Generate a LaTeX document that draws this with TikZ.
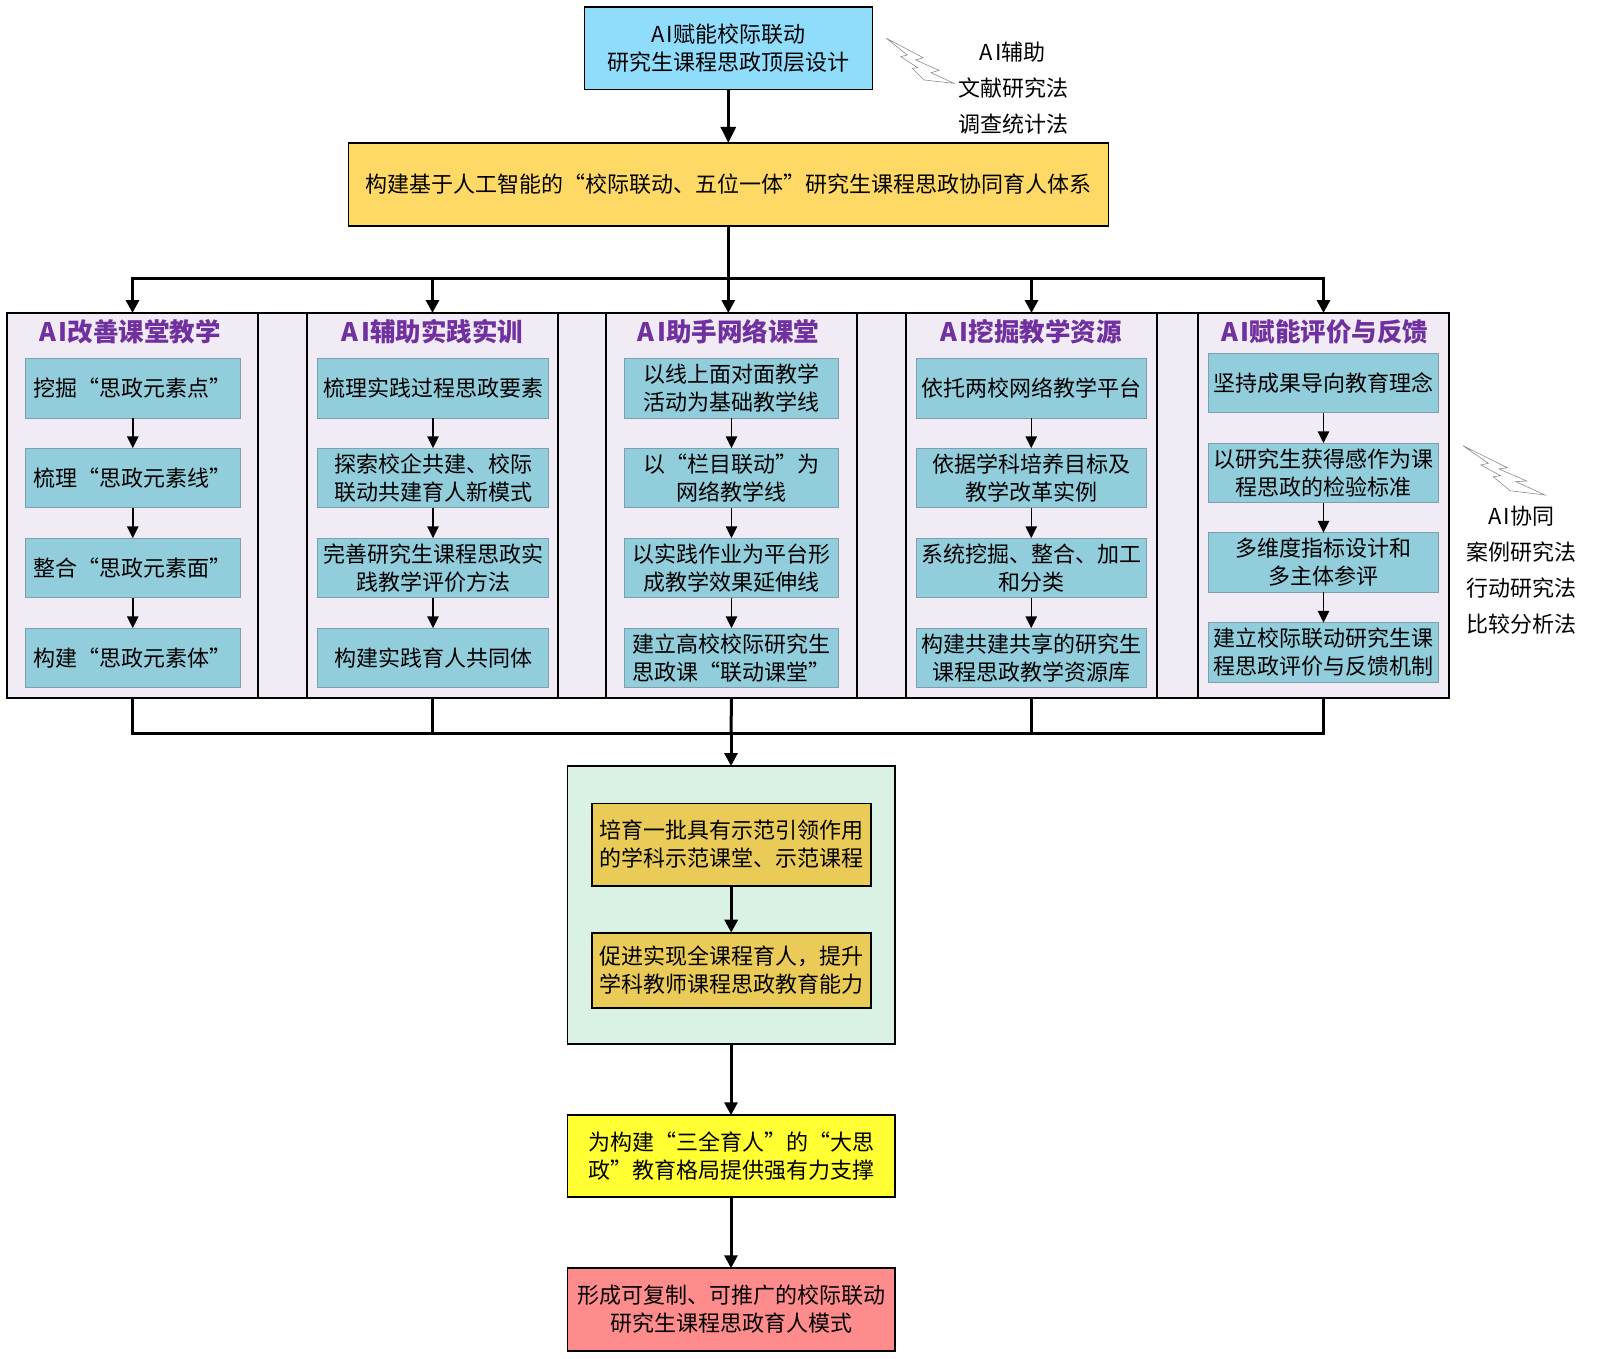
\documentclass[tikz,border=0pt]{standalone}
\usepackage{fontspec}
\setmainfont{Noto Sans CJK SC}
\usetikzlibrary{arrows.meta}
\newcommand{\AIx}{A\kern0.1em I}
\definecolor{lav}{HTML}{F0EBF5}
\definecolor{teal1}{HTML}{92CDDC}
\definecolor{tealb}{HTML}{7F9FAF}
\definecolor{topblue}{HTML}{8FDDFB}
\definecolor{orange1}{HTML}{FFD966}
\definecolor{gold1}{HTML}{EBCB58}
\definecolor{green1}{HTML}{DAF2E4}
\definecolor{yellow1}{HTML}{FFFF33}
\definecolor{pink1}{HTML}{FF8C8C}
\definecolor{purple1}{HTML}{7030A0}
\tikzset{
  x=1pt,y=-1pt,
  base/.style={align=center,inner sep=0pt,outer sep=0pt,font=\fontsize{22}{28}\selectfont},
  mainbox/.style={base,draw=black,line width=1.6pt},
  panel/.style={draw=black,line width=2.4pt,fill=lav,minimum height=385pt,inner sep=0pt,outer sep=0pt},
  inbox/.style={base,draw=tealb,line width=0.8pt,fill=teal1,minimum height=59.5pt},
  title/.style={inner sep=0pt,text=purple1,font=\fontsize{25.5}{30}\selectfont\bfseries},
  side/.style={inner sep=0pt,align=center,font=\fontsize{22}{36}\selectfont},
  bolt/.style={draw=black!45,line width=0.6pt,line join=miter},
  thinarrow/.style={draw=black,line width=1.5pt,-{Triangle[length=12pt,width=11.5pt]}},
  bigarrow/.style={draw=black,line width=3pt,-{Triangle[length=13pt,width=13pt]}},
  headarrow/.style={draw=black,line width=3pt,-{Triangle[length=16pt,width=15pt]}},
  busline/.style={draw=black,line width=3pt},
  w1/.style={minimum width=214.5pt},
  w2/.style={minimum width=231pt},
  w3/.style={minimum width=214.5pt},
  w4/.style={minimum width=230.5pt},
  w5/.style={minimum width=230pt},
}
\begin{document}
\begin{tikzpicture}
\useasboundingbox (0,0) rectangle (1599,1359);
% band behind panels
\node[draw=black,line width=1.8pt,fill=lav,minimum width=1442pt,minimum height=385pt,inner sep=0pt,outer sep=0pt] (band) at (728,505.5) {};
% top
\node[mainbox,fill=topblue,minimum width=288pt,minimum height=82.5pt] (top) at (728.3,48.25) {\AIx 赋能校际联动\\研究生课程思政顶层设计};
\node[mainbox,fill=orange1,minimum width=760pt,minimum height=83pt] (sys) at (728.3,184.5) {构建基于人工智能的“校际联动、五位一体”研究生课程思政协同育人体系};
\draw[headarrow] (top) -- (sys);
% side notes
\node[side] (note1) at (1013,88) {\AIx 辅助\\文献研究法\\调查统计法};
\node[side] (note2) at (1521,570.5) {\AIx 协同\\案例研究法\\行动研究法\\比较分析法};
\draw[bolt] (886.3,38.3)--(923.3,57.7)--(915.7,60)--(939,70.3)--(931,72.7)--(954,83.3)--(924,80)--(912.3,68.3)--(917.7,67.7)--(900.7,56.7)--(907.3,55)--cycle;
\draw[bolt] (1463,445.7)--(1507.3,467.7)--(1499,469)--(1526.7,481)--(1516,481.7)--(1545,495)--(1510,490.7)--(1493.3,476.7)--(1500.7,475.7)--(1480.7,465)--(1488.3,463.3)--cycle;
% panels
\node[panel,minimum width=251pt] (p1) at (132.5,505.5) {};
\node[panel,minimum width=251pt] (p2) at (432.5,505.5) {};
\node[panel,minimum width=251pt] (p3) at (731.5,505.5) {};
\node[panel,minimum width=251pt] (p4) at (1031.5,505.5) {};
\node[panel,minimum width=251pt] (p5) at (1323.5,505.5) {};
% titles
\node[title] (t1) at (130,332) {\AIx 改善课堂教学};
\node[title] (t2) at (432.5,332) {\AIx 辅助实践实训};
\node[title] (t3) at (728.5,332) {\AIx 助手网络课堂};
\node[title] (t4) at (1031,332) {\AIx 挖掘教学资源};
\node[title] (t5) at (1325,332) {\AIx 赋能评价与反馈};
% panel 1
\node[inbox,w1] (a1) at (132.75,388.5) {挖掘“思政元素点”};
\node[inbox,w1] (a2) at (132.75,478) {梳理“思政元素线”};
\node[inbox,w1] (a3) at (132.75,568) {整合“思政元素面”};
\node[inbox,w1] (a4) at (132.75,658) {构建“思政元素体”};
% panel 2
\node[inbox,w2] (b1) at (433,388.5) {梳理实践过程思政要素};
\node[inbox,w2] (b2) at (433,478) {探索校企共建、校际\\联动共建育人新模式};
\node[inbox,w2] (b3) at (433,568) {完善研究生课程思政实\\践教学评价方法};
\node[inbox,w2] (b4) at (433,658) {构建实践育人共同体};
% panel 3
\node[inbox,w3] (c1) at (731.5,388.5) {以线上面对面教学\\活动为基础教学线};
\node[inbox,w3] (c2) at (731.5,478) {以“栏目联动”为\\网络教学线};
\node[inbox,w3] (c3) at (731.5,568) {以实践作业为平台形\\成教学效果延伸线};
\node[inbox,w3] (c4) at (731.5,658) {建立高校校际研究生\\思政课“联动课堂”};
% panel 4
\node[inbox,w4] (d1) at (1031.25,388.5) {依托两校网络教学平台};
\node[inbox,w4] (d2) at (1031.25,478) {依据学科培养目标及\\教学改革实例};
\node[inbox,w4] (d3) at (1031.25,568) {系统挖掘、整合、加工\\和分类};
\node[inbox,w4] (d4) at (1031.25,658) {构建共建共享的研究生\\课程思政教学资源库};
% panel 5
\node[inbox,w5] (e1) at (1323.5,383) {坚持成果导向教育理念};
\node[inbox,w5] (e2) at (1323.5,473) {以研究生获得感作为课\\程思政的检验标准};
\node[inbox,w5] (e3) at (1323.5,562.5) {多维度指标设计和\\多主体参评};
\node[inbox,w5] (e4) at (1323.5,652.5) {建立校际联动研究生课\\程思政评价与反馈机制};
% inner arrows
\foreach \k in {a,b,c,d,e}{
  \draw[thinarrow] (\k1) -- (\k2);
  \draw[thinarrow] (\k2) -- (\k3);
  \draw[thinarrow] (\k3) -- (\k4);
}
% upper bus
\coordinate (busT) at (728.3,279);
\coordinate (p3in) at (728.3,313);
\draw[busline] (sys.south) -- (busT);
\draw[bigarrow] (busT) -| (p1.north);
\draw[bigarrow] (busT) -| (p2.north);
\draw[bigarrow] (busT) -- (p3in);
\draw[bigarrow] (busT) -| (p4.north);
\draw[bigarrow] (busT) -| (p5.north);
% lower bus
\coordinate (busB) at (731,733);
\draw[busline] (p1.south) |- (busB);
\draw[busline] (p2.south) |- (busB);
\draw[busline] (p3.south) -- (busB);
\draw[busline] (p4.south) |- (busB);
\draw[busline] (p5.south) |- (busB);
% results
\node[mainbox,fill=green1,minimum width=327.4pt,minimum height=278pt] (res) at (731,905) {};
\node[mainbox,fill=gold1,minimum width=279pt,minimum height=82.4pt] (g1) at (731.2,844.5) {培育一批具有示范引领作用\\的学科示范课堂、示范课程};
\node[mainbox,fill=gold1,minimum width=279pt,minimum height=75pt] (g2) at (731.2,970.2) {促进实现全课程育人，提升\\学科教师课程思政教育能力};
\node[mainbox,fill=yellow1,minimum width=327.4pt,minimum height=81.5pt] (y1) at (731,1156) {为构建“三全育人”的“大思\\政”教育格局提供强有力支撑};
\node[mainbox,fill=pink1,minimum width=327.4pt,minimum height=82.5pt] (r1) at (731,1309.5) {形成可复制、可推广的校际联动\\研究生课程思政育人模式};
\draw[bigarrow] (busB) -- (res);
\draw[bigarrow] (g1) -- (g2);
\draw[bigarrow] (res) -- (y1);
\draw[bigarrow] (y1) -- (r1);
\end{tikzpicture}
\end{document}
